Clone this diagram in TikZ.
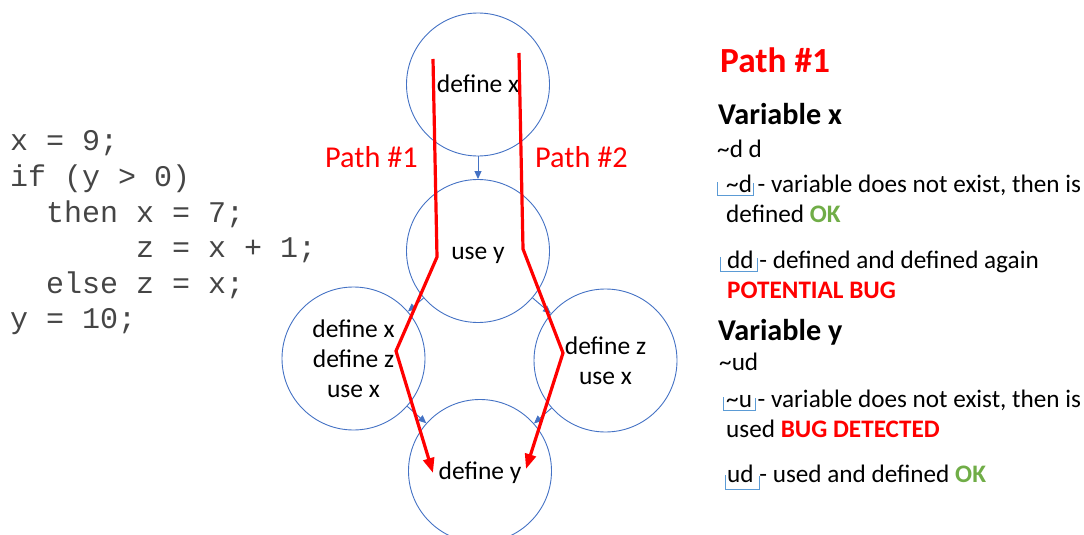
\documentclass[tikz,border=0pt]{standalone}
\usepackage{fontspec}
\setmainfont{Carlito}
\newfontfamily\codefont{Liberation Mono}
\usetikzlibrary{arrows.meta}
\definecolor{cblue}{HTML}{4472C4}
\definecolor{lblue}{HTML}{5B9BD5}
\definecolor{okgreen}{HTML}{70AD47}
\definecolor{pred}{HTML}{FF0000}
\definecolor{codegray}{HTML}{454545}
\begin{document}
\begin{tikzpicture}[x=1pt,y=-1pt,
  circ/.style={circle,draw=cblue,line width=0.9pt,minimum size=143pt,inner sep=0pt,
    font=\fontsize{25.5}{30}\selectfont,align=center},
  oneline/.style={text height=19pt,text depth=3pt},
  flow/.style={draw=cblue,line width=0.9pt,-{Triangle[length=8pt,width=7pt]},fill=cblue},
  rpath/.style={draw=pred,line width=3.2pt,-{Triangle[length=15pt,width=11pt]}},
  plabel/.style={anchor=base west,inner sep=0pt,text=pred,font=\fontsize{30.3}{36}\selectfont},
  code/.style={anchor=base west,inner sep=0pt,text=codegray,font=\codefont\fontsize{30}{36}\selectfont},
  hdr/.style={anchor=base west,inner sep=0pt,text=pred,font=\bfseries\fontsize{35.3}{42}\selectfont},
  vhdr/.style={anchor=base west,inner sep=0pt,font=\bfseries\fontsize{30.2}{36}\selectfont},
  tx/.style={anchor=base west,inner sep=0pt,font=\fontsize{25.2}{30}\selectfont},
  brk/.style={draw=lblue,line width=0.8pt}
]
\useasboundingbox (0,0) rectangle (1084,535);

% code
\node[code] (c1) at (10,150) {x = 9;};
\node[code] (c2) at (10,186) {if (y > 0)};
\node[code] (c3) at (46,222) {then x = 7;};
\node[code] (c4) at (136,257) {z = x + 1;};
\node[code] (c5) at (46,293) {else z = x;};
\node[code] (c6) at (10,328) {y = 10;};

% circles
\node[circ,oneline] (dx) at (478,84.5) {define x};
\node[circ,oneline] (uy) at (478,251) {use y};
\node[circ] (L) at (353.5,358.5) {define x\\define z\\use x};
\node[circ] (R) at (605.5,360.5) {define z\\use x};
\node[circ,oneline] (dy) at (480,471) {define y};

\draw[flow] (dx) -- (uy);
\draw[flow] (uy) -- (L);
\draw[flow] (uy) -- (R);
\draw[flow] (L) -- (dy);
\draw[flow] (R) -- (dy);

% red paths
\coordinate (p1a) at (433,59);
\coordinate (p1b) at (437,257);
\coordinate (p1c) at (396,351);
\coordinate (p1d) at (433,473);
\coordinate (p2a) at (519,53);
\coordinate (p2b) at (523,249);
\coordinate (p2c) at (563,353);
\coordinate (p2d) at (526,469);
\draw[rpath] (p1a) -- (p1b) -- (p1c) -- (p1d);
\draw[rpath] (p2a) -- (p2b) -- (p2c) -- (p2d);

\node[plabel] (l1) at (325,167) {Path \#1};
\node[plabel] (l2) at (535,167) {Path \#2};

% right text
\node[hdr] (ph) at (720,72) {Path \#1};
\node[vhdr] (vx) at (718,124) {Variable x};
\node[tx] (t1) at (717,157) {\textasciitilde d d};
\node[tx] (t2) at (726,192) {\textasciitilde d - variable does not exist, then is};
\node[tx] (t3) at (726,222) {defined \textcolor{okgreen}{\bfseries OK}};
\node[tx] (t4) at (727,268) {dd - defined and defined again};
\node[tx,text=pred,font=\bfseries\fontsize{25.2}{30}\selectfont] (t5) at (727,298) {POTENTIAL BUG};
\node[vhdr] (vy) at (718,340) {Variable y};
\node[tx] (t6) at (719,370) {\textasciitilde ud};
\node[tx] (t7) at (726,407) {\textasciitilde u\ - variable does not exist, then is};
\node[tx] (t8) at (726,437) {used \textcolor{pred}{\bfseries BUG DETECTED}};
\node[tx] (t9) at (727,482) {ud\ - used and defined \textcolor{okgreen}{\bfseries OK}};

% bracket marks
\draw[brk] (717,182) -- (717,195) -- (753,195) -- (753,183);
\draw[brk] (720,257) -- (720,271) -- (757,271) -- (757,258);
\draw[brk] (723,397) -- (723,410) -- (755,410) -- (755,398);
\draw[brk] (725,475) -- (725,489) -- (759,489) -- (759,476);
\end{tikzpicture}
\end{document}
